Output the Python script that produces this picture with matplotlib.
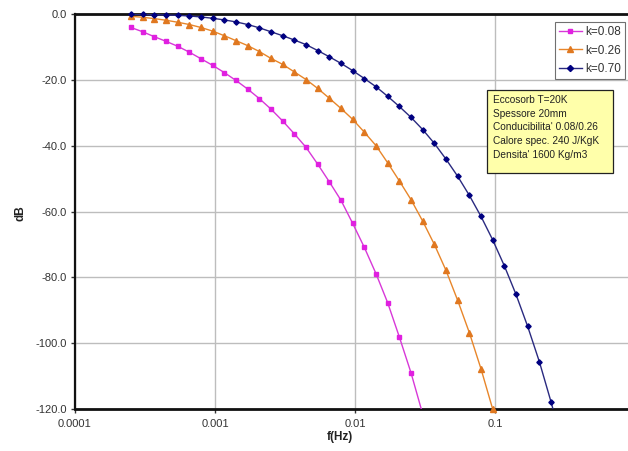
import matplotlib
matplotlib.use("Agg")
import matplotlib.pyplot as plt
from matplotlib.patches import Rectangle
from matplotlib.lines import Line2D

# Frequencies (Hz), 12 points per decade starting at ~2.5e-4
freq = [2.512e-4, 3.043e-4, 3.687e-4, 4.467e-4, 5.412e-4, 6.557e-4, 7.943e-4, 9.624e-4,
        1.166e-3, 1.413e-3, 1.711e-3, 2.073e-3, 2.512e-3, 3.043e-3, 3.687e-3, 4.467e-3,
        5.412e-3, 6.557e-3, 7.943e-3, 9.624e-3, 1.166e-2, 1.413e-2, 1.711e-2, 2.073e-2,
        2.512e-2, 3.043e-2, 3.687e-2, 4.467e-2, 5.412e-2, 6.557e-2, 7.943e-2, 9.624e-2,
        0.1166, 0.1413, 0.1711, 0.2073, 0.2512, 0.3043]

db_k008 = [-4.1, -5.4, -6.9, -8.3, -9.8, -11.6, -13.6, -15.6, -17.8, -20.2, -22.8, -25.7,
           -28.9, -32.5, -36.4, -40.5, -45.6, -51.0, -56.6, -63.6, -70.9, -78.9, -87.7,
           -98.1, -109.0, -121.5]

db_k026 = [-0.7, -1.0, -1.4, -1.9, -2.5, -3.2, -4.1, -5.2, -6.6, -8.1, -9.6, -11.4,
           -13.5, -15.3, -17.6, -19.9, -22.6, -25.6, -28.7, -32.0, -35.9, -40.0, -45.2,
           -50.7, -56.4, -62.9, -70.0, -77.9, -87.0, -96.8, -107.8, -120.0]

db_k070 = [-0.1, -0.1, -0.2, -0.3, -0.4, -0.6, -0.9, -1.3, -1.8, -2.4, -3.2, -4.2,
           -5.4, -6.6, -7.9, -9.3, -11.1, -13.0, -15.0, -17.2, -19.6, -22.1, -25.0,
           -28.1, -31.4, -35.1, -39.3, -44.1, -49.3, -55.1, -61.5, -68.6, -76.5, -85.2,
           -94.9, -105.6, -117.8, -131.0]

labels = ["k=0.08", "k=0.26", "k=0.70"]
x_ticks = [1e-4, 1e-3, 1e-2, 1e-1]
x_ticklabels = ["0.0001", "0.001", "0.01", "0.1"]
y_ticks = [0, -20, -40, -60, -80, -100, -120]
note_lines = ["Eccosorb T=20K", "Spessore 20mm", "Conducibilita' 0.08/0.26",
              "Calore spec. 240 J/KgK", "Densita' 1600 Kg/m3"]

plt.rcParams['font.family'] = ['Liberation Sans', 'DejaVu Sans']

W, H = 628, 451
fig = plt.figure(figsize=(W / 100, H / 100), dpi=100)
fig.patch.set_facecolor('white')

def fx(px):
    return px / W

def fy(py):
    return 1 - py / H

ax = fig.add_axes([fx(75), fy(409), fx(635) - fx(75), fy(14) - fy(409)])
ax.set_xscale('log')
ax.set_xlim(1e-4, 1)
ax.set_ylim(-120, 0)

series = [
    (db_k008, '#D838D8', '#E020E0', 's', 3.0),
    (db_k026, '#E8862A', '#E07820', '^', 3.8),
    (db_k070, '#2A2A80', '#000080', 'D', 2.7),
]
handles = []
for (vals, lc, mc, mk, ms), lab in zip(series, labels):
    xs = freq[:len(vals)]
    ax.plot(xs, vals, color=lc, lw=1.0, zorder=3)
    inside = [i for i, v in enumerate(vals) if v >= -120.05]
    ax.plot([xs[i] for i in inside], [vals[i] for i in inside], ls='none',
            marker=mk, ms=ms, mec=mc, mfc=mc, zorder=4, clip_on=False)
    handles.append(Line2D([], [], color=lc, lw=1.0, marker=mk, ms=ms + 0.4,
                          mec=mc, mfc=mc, label=lab))

ax.set_xticks(x_ticks)
ax.set_xticklabels(x_ticklabels)
ax.xaxis.set_minor_locator(matplotlib.ticker.NullLocator())
ax.set_yticks(y_ticks)
ax.set_yticklabels([f"{v:.1f}" for v in y_ticks])
ax.tick_params(axis='both', labelsize=8, colors='#333333', length=3, width=1,
               direction='out', pad=3)
ax.tick_params(axis='x', pad=4)

ax.grid(True, which='major', color='#BDBDBD', lw=1.0)
ax.set_axisbelow(True)
for side in ['top', 'bottom', 'left']:
    ax.spines[side].set_color('#111111')
    ax.spines[side].set_linewidth(2.0)
ax.spines['left'].set_linewidth(1.6)
ax.spines['right'].set_visible(False)

fig.text(fx(340), fy(437), "f(Hz)", ha='center', va='center', fontsize=8.5,
         fontweight='bold', color='#222222')
fig.text(fx(21), fy(213), "dB", ha='center', va='center', fontsize=8.5,
         fontweight='bold', rotation=90, color='#222222')

leg = fig.legend(handles=handles, loc='upper left', bbox_to_anchor=(fx(555), fy(22)),
                 bbox_transform=fig.transFigure, fontsize=8.5, frameon=True,
                 fancybox=False, edgecolor='#707070', framealpha=1,
                 handlelength=1.9, handletextpad=0.3, labelspacing=0.55,
                 borderpad=0.35, borderaxespad=0)
leg.get_frame().set_linewidth(0.8)
for t in leg.get_texts():
    t.set_color('#333333')

# yellow note box
rect = Rectangle((fx(487), fy(173)), fx(613) - fx(487), fy(90) - fy(173),
                 transform=fig.transFigure, facecolor='#FFFFAA', edgecolor='#222222',
                 lw=0.9, zorder=5)
fig.patches.append(rect)
line_y = [100, 114, 127.5, 141, 155]
for txt, yy in zip(note_lines, line_y):
    fig.text(fx(493), fy(yy), txt, ha='left', va='center', fontsize=7.3,
             color='#222222', zorder=6)

fig.savefig("out.png", dpi=100)
